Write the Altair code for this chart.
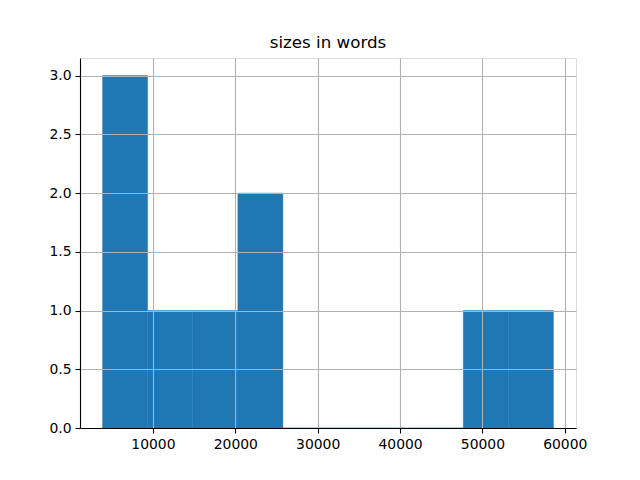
import altair as alt
import pandas as pd

bin_starts = [3881, 9355, 14830, 20304, 25779, 31253, 36727, 42202, 47676, 53151]
bin_ends = [9355, 14830, 20304, 25779, 31253, 36727, 42202, 47676, 53151, 58625]
counts = [3, 1, 1, 2, 0, 0, 0, 0, 1, 1]
x_ticks = [10000, 20000, 30000, 40000, 50000, 60000]
y_ticks = [0.0, 0.5, 1.0, 1.5, 2.0, 2.5, 3.0]

df = pd.DataFrame({"start": bin_starts, "end": bin_ends, "count": counts})

FONT = "DejaVu Sans"

chart = alt.Chart(df).mark_rect(color="#1f77b4", stroke="#1f77b4", strokeWidth=0.4).encode(
    x=alt.X("start:Q",
            scale=alt.Scale(domain=[1144, 61362], nice=False, zero=False, padding=0),
            axis=alt.Axis(values=x_ticks, format="d", title=None, grid=True,
                          gridColor="#b0b0b0", gridWidth=1.1, zindex=1,
                          domainColor="black", domainWidth=1.1,
                          tickColor="black", tickSize=5, tickWidth=1.1,
                          labelPadding=4, labelFontSize=13.9, labelColor="black",
                          labelFont=FONT)),
    x2="end:Q",
    y=alt.Y("count:Q",
            scale=alt.Scale(domain=[0, 3.15], nice=False, padding=0),
            axis=alt.Axis(values=y_ticks, format=".1f", title=None, grid=True,
                          gridColor="#b0b0b0", gridWidth=1.1, zindex=1,
                          domainColor="black", domainWidth=1.1,
                          tickColor="black", tickSize=5, tickWidth=1.1,
                          labelPadding=4, labelFontSize=13.9, labelColor="black",
                          labelFont=FONT)),
    y2=alt.datum(0),
).properties(
    width=496,
    height=370,
    title=alt.Title("sizes in words", font=FONT, fontSize=16.7, fontWeight="normal",
                    color="black", offset=6, anchor="middle"),
    autosize=alt.AutoSizeParams(type="none"),
    padding={"left": 72, "top": 50, "right": 48, "bottom": 44},
).configure_view(
    stroke="black", strokeWidth=1.1
).configure(background="white")

chart.save("out.html", embed_options={"renderer": "svg", "actions": False})
